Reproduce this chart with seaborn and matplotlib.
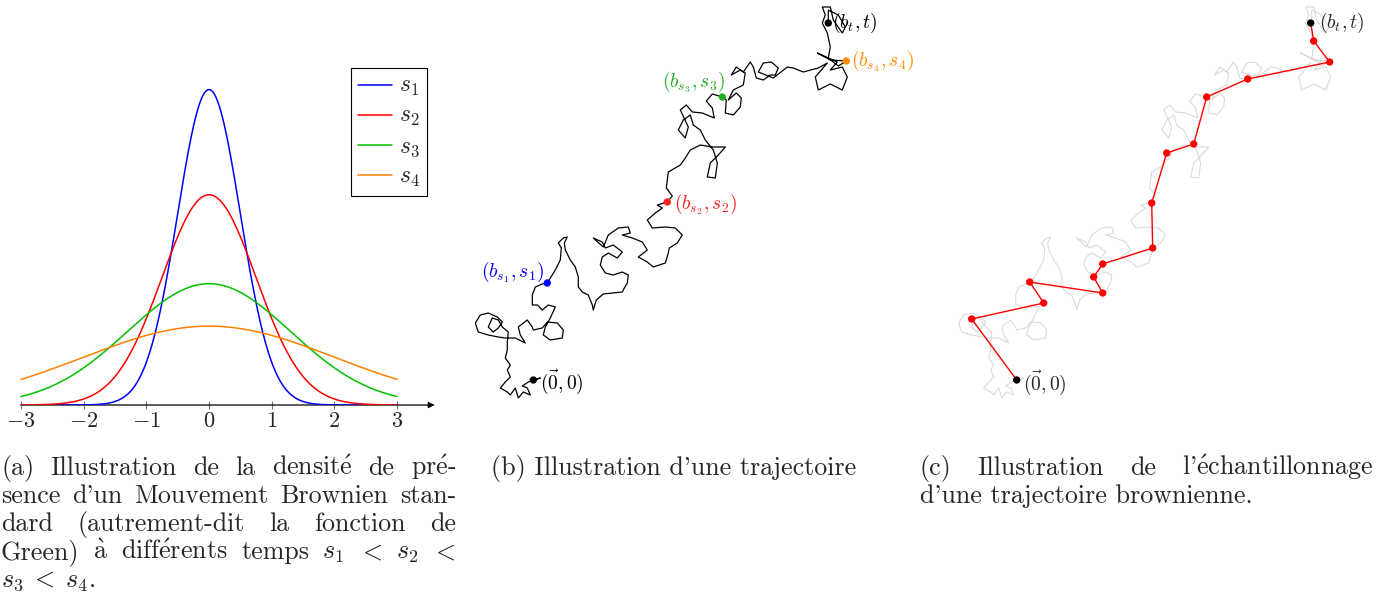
import numpy as np
import pandas as pd
import matplotlib
matplotlib.use("Agg")
import matplotlib.pyplot as plt
import seaborn as sns

sns.set_theme(style="white")
plt.rcParams["font.family"] = ["cmr10", "DejaVu Serif"]
plt.rcParams["mathtext.fontset"] = "cm"
plt.rcParams["axes.unicode_minus"] = False

# ---- données (a) : densités gaussiennes aux temps s1 < s2 < s3 < s4
curve_labels = ["$s_1$", "$s_2$", "$s_3$", "$s_4$"]
curve_sigma = [0.5, 0.75, 1.3, 2.0]
curve_colors = ["#0000ff", "#ff0000", "#00c000", "#ff8000"]
x_ticks = [-3, -2, -1, 0, 1, 2, 3]

# ---- données (b)/(c) : trajectoire (origine = point de départ)
path_x = [0, 7, -5, -11, -6, -3, -10, -15, -18, -23, -26, -33, -28, -23, -26, -23, -28, -26, -26, -25,
          -31, -35, -41, -45, -40, -35, -31, -36, -45, -53, -58, -55, -45, -35, -28, -18, -8, -13, -15, -6,
          -1, 0, 9, 14, 24, 30, 29, 17, 10, 12, 17, 22, 15, 9, 4, -1, -1, 2, 9, 14,
          17, 22, 27, 28, 25, 30, 34, 31, 32, 37, 42, 45, 45, 49, 55, 59, 60, 63, 70, 80,
          89, 91, 94, 95, 89, 80, 72, 67, 69, 75, 84, 89, 80, 72, 69, 60, 70, 75, 85, 95,
          97, 89, 99, 109, 114, 105, 114, 120, 132, 135, 136, 144, 149, 142, 132, 119, 114, 122, 129, 124, 134,
          139, 133, 134, 135, 147, 152, 157, 167, 179, 192, 185, 177, 174, 182, 184, 180, 172, 167, 160, 157,
          150, 145, 152, 155, 147, 153, 159, 169, 181, 179, 173, 179, 189,
          193, 192, 200, 207, 208, 203, 195, 200, 210, 212, 207, 198, 203, 210, 217, 220, 223, 230, 237, 242,
          245, 238, 230, 225, 240, 254, 260, 270, 285, 294, 282, 285, 297, 309, 314, 309, 297, 304, 284, 297, 313,
          305, 295, 297, 294, 289, 292, 289, 297, 300, 309, 312, 305, 295, 295]
path_y = [0, 2, -2, -6, -8, -15, -12, -18, -8, -15, -12, -8, -2, 3, 10, 15, 22, 30, 38, 48,
          53, 60, 62, 53, 48, 52, 58, 63, 67, 65, 57, 48, 45, 43, 42, 42, 37, 45, 53, 60,
          53, 50, 52, 58, 57, 50, 42, 40, 45, 53, 62, 73, 75, 70, 75, 75, 85, 93, 96, 97,
          102, 110, 120, 132, 137, 142, 143, 137, 130, 120, 113, 103, 93, 88, 85, 75, 70, 80, 86, 87,
          88, 92, 97, 105, 108, 105, 107, 115, 123, 127, 122, 128, 135, 132, 138, 142, 133, 145, 152, 153,
          147, 145, 142, 138, 130, 123, 118, 113, 117, 127, 132, 137, 145, 152, 153, 152, 160, 167, 172, 175, 178,
          184, 192, 200, 208, 215, 222, 230, 235, 233, 233, 225, 217, 203, 202, 217, 230, 240, 250, 255, 265,
          260, 250, 242, 253, 270, 275, 268, 267, 262, 272, 279, 286, 283,
          280, 267, 265, 273, 282, 287, 280, 290, 295, 307, 310, 305, 313, 308, 318, 313, 302, 300, 305, 305,
          312, 318, 317, 308, 302, 313, 312, 308, 312, 317, 303, 290, 296, 290, 303, 313, 310, 318, 327, 320, 319,
          314, 322, 333, 347, 357, 365, 373, 373, 360, 347, 353, 365, 370, 357]

# points marqués (b)
mark_x = [0, 14, 134, 189, 313, 295]
mark_y = [0, 97, 178, 283, 319, 357]
mark_labels = [r"$(\vec{\mathbf{0}},0)$", r"$(b_{s_1},s_1)$", r"$(b_{s_2},s_2)$",
               r"$(b_{s_3},s_3)$", r"$(b_{s_4},s_4)$", r"$(b_t,t)$"]
mark_colors = ["#000000", "#0000ff", "#ff2020", "#20b020", "#ff8c00", "#000000"]

# échantillonnage (c)
sample_x = [0, -45, 27, 13, 86, 77, 86, 136, 135, 150, 177, 190, 231, 313, 297, 294]
sample_y = [0, 61, 77, 98, 87, 103, 116, 132, 177, 227, 236, 283, 301, 318, 339, 357]

W, H = 1390, 616
fig = plt.figure(figsize=(W / 100, H / 100), dpi=100)


def rect(left, top, right, bottom):
    return [left / W, 1 - bottom / H, (right - left) / W, (bottom - top) / H]


# ---------- (a)
ax_a = fig.add_axes(rect(14.7, 69, 434.7, 405))
xs = np.linspace(-3, 3, 401)
dens = pd.concat([pd.DataFrame({"x": xs,
                                "y": np.exp(-xs ** 2 / (2 * s ** 2)) / (s * np.sqrt(2 * np.pi)),
                                "courbe": lab})
                  for lab, s in zip(curve_labels, curve_sigma)])
sns.lineplot(data=dens, x="x", y="y", hue="courbe", palette=dict(zip(curve_labels, curve_colors)),
             linewidth=1.1, ax=ax_a)
ax_a.set_xlim(-3.1, 3.6)
ax_a.set_ylim(0, 0.85)
for sp in ax_a.spines.values():
    sp.set_visible(False)
ax_a.set_yticks([])
ax_a.set_xticks(x_ticks)
ax_a.set_xticklabels([f"${v}$" for v in x_ticks], fontsize=16)
ax_a.tick_params(axis="x", direction="inout", length=6, width=0.8, color="#777777", pad=2,
                 bottom=True)
ax_a.set_xlabel("")
ax_a.set_ylabel("")
ax_a.annotate("", xy=(3.6, 0), xytext=(-3, 0), annotation_clip=False, zorder=1,
              arrowprops=dict(arrowstyle="-|>", color="black", lw=0.9, mutation_scale=9,
                              shrinkA=0, shrinkB=0))
h, l = ax_a.get_legend_handles_labels()
ax_a.legend(h, l, loc="upper right", bbox_to_anchor=(0.982, 1.003), borderaxespad=0,
            fontsize=17, frameon=True, fancybox=False, edgecolor="black", framealpha=1,
            handlelength=1.45, handleheight=0.5, handletextpad=0.3, labelspacing=0.3, borderpad=0.3)
ax_a.get_legend().get_frame().set_linewidth(0.8)

# ---------- (b)
ax_b = fig.add_axes(rect(460, 0, 930, 410))
sns.lineplot(x=path_x, y=path_y, sort=False, estimator=None, color="black", linewidth=0.9, ax=ax_b)
sns.scatterplot(x=mark_x, y=mark_y, hue=mark_labels, palette=dict(zip(mark_labels, mark_colors)),
                s=28, edgecolor="none", legend=False, zorder=3, ax=ax_b)
ax_b.set_xlim(-73.3, 396.7)
ax_b.set_ylim(-30, 380)
ax_b.axis("off")
offsets = [(7, -2, "left"), (-3, 11, "right"), (7, -2, "left"),
           (3, 15, "right"), (5, 0, "left"), (4, 0, "left")]
for xm, ym, lab, col, (dx, dy, ha) in zip(mark_x, mark_y, mark_labels, mark_colors, offsets):
    ax_b.annotate(lab, (xm, ym), xytext=(dx, dy), textcoords="offset pixels",
                  ha=ha, va="center", color=col, fontsize=14)

# ---------- (c)
ax_c = fig.add_axes(rect(943.4, 0, 1390, 410))
sns.lineplot(x=path_x, y=path_y, sort=False, estimator=None, color="#dadada", linewidth=0.8, ax=ax_c)
sns.lineplot(x=sample_x, y=sample_y, sort=False, estimator=None, color="#ff0000", linewidth=1.0, ax=ax_c)
sns.scatterplot(x=sample_x[1:-1], y=sample_y[1:-1], color="#ff0000", s=28, edgecolor="none",
                zorder=3, ax=ax_c)
sns.scatterplot(x=[sample_x[0], sample_x[-1]], y=[sample_y[0], sample_y[-1]], color="black", s=28,
                edgecolor="none", zorder=4, ax=ax_c)
ax_c.set_xlim(-73.3, 373.3)
ax_c.set_ylim(-30, 380)
ax_c.axis("off")
ax_c.annotate(mark_labels[0], (sample_x[0], sample_y[0]), xytext=(6, -3), textcoords="offset pixels",
              ha="left", va="center", fontsize=14)
ax_c.annotate(mark_labels[-1], (sample_x[-1], sample_y[-1]), xytext=(8, 0), textcoords="offset pixels",
              ha="left", va="center", fontsize=14)

# ---------- légendes (captions)
CAP = 18.7
renderer = fig.canvas.get_renderer()
E_AIGU = r"$\acute{\mathrm{e}}$"
A_GRAVE = r"$\grave{\mathrm{a}}$"


def caption_line(words, x0, y, x1=None):
    if x1 is None:
        fig.text(x0 / W, 1 - y / H, " ".join(words), fontsize=CAP, va="baseline")
        return
    ts = [fig.text(0, 1 - y / H, w, fontsize=CAP, va="baseline") for w in words]
    ws = [t.get_window_extent(renderer).width for t in ts]
    gap = (x1 - x0 - sum(ws)) / (len(ws) - 1)
    pos = x0
    for t, w in zip(ts, ws):
        t.set_x(pos / W)
        pos += w + gap


caption_line(["(a)", "Illustration", "de", "la", "densit" + E_AIGU, "de", "pr" + E_AIGU + "-"], 1, 475, 456)
caption_line("sence d'un Mouvement Brownien stan-".split(), 1, 503, 456)
caption_line("dard (autrement-dit la fonction de".split(), 1, 531, 456)
caption_line(["Green)", A_GRAVE, "diff" + E_AIGU + "rents", "temps", "$s_1$", "$<$", "$s_2$", "$<$"],
             1, 559, 456)
caption_line([r"$s_3\;<\;s_4$."], 1, 587)
caption_line("(b) Illustration d'une trajectoire".split(), 491, 475)
caption_line(["(c)", "Illustration", "de", "l'" + E_AIGU + "chantillonnage"], 920, 475, 1373)
caption_line("d'une trajectoire brownienne.".split(), 920, 503)

fig.savefig("out.png", dpi=100)
